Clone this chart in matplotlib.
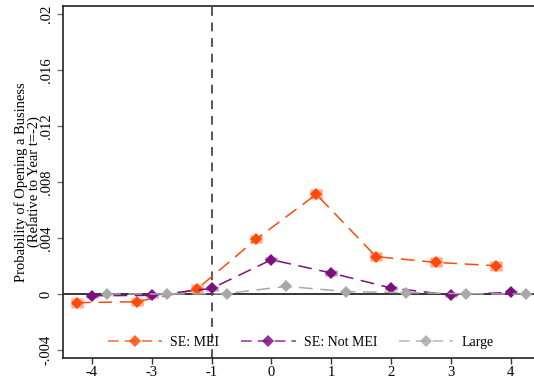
import matplotlib
matplotlib.use("Agg")
import matplotlib.pyplot as plt
import numpy as np
from matplotlib.lines import Line2D

# Event-time categories (t=-2 is the omitted reference year)
tick_labels = ["-4", "-3", "-1", "0", "1", "2", "3", "4"]
positions = np.arange(1, len(tick_labels) + 1)

# Estimated coefficients
mei = [-0.00062, -0.00055, 0.00033, 0.00393, 0.00712, 0.00267, 0.00226, 0.00202]
not_mei = [-0.00012, -0.00010, 0.00040, 0.00245, 0.00150, 0.00043, -0.00007, 0.00012]
large = [0.00000, 0.00000, 0.00003, 0.00055, 0.00017, 0.00010, 0.00002, 0.00000]

# Confidence interval half-widths
mei_ci = [0.00035, 0.00030, 0.00035, 0.00030, 0.00035, 0.00030, 0.00035, 0.00035]
not_mei_ci = [0.00018, 0.00015, 0.00015, 0.00018, 0.00018, 0.00015, 0.00015, 0.00015]
large_ci = [0.00005, 0.00005, 0.00005, 0.00005, 0.00005, 0.00005, 0.00005, 0.00005]

series_names = ["SE: MEI", "SE: Not MEI", "Large"]
colors = ["#ff4a0a", "#7e0f7e", "#a8a8a8"]
offsets = [-0.25, 0.0, 0.25]

yticks = [-0.004, 0, 0.004, 0.008, 0.012, 0.016, 0.02]
ytick_labels = ["-.004", "0", ".004", ".008", ".012", ".016", ".02"]

plt.rcParams["font.family"] = ["Liberation Serif", "DejaVu Serif"]
plt.rcParams["font.size"] = 10

fig = plt.figure(figsize=(5.34, 3.79), dpi=100)
ax = fig.add_axes([0.1174, 0.0554, 0.8826, 0.9288])

ax.axhline(0, color="black", lw=1.1, zorder=1)
ax.axvline(3, color="#555555", lw=1.4, ls=(0, (4.5, 3.5)), zorder=1)

handles = []
for vals, ci, col, off, name in zip([mei, not_mei, large],
                                    [mei_ci, not_mei_ci, large_ci],
                                    colors, offsets, series_names):
    x = positions + off
    v = np.array(vals)
    c = np.array(ci)
    ax.vlines(x, v - c, v + c, color=col, lw=9, alpha=0.45, zorder=2)
    ax.plot(x, v, color=col, lw=1.1, ls=(0, (9, 5)), marker="D",
            markersize=6.5, markeredgewidth=0, zorder=3)
    handles.append(Line2D([], [], color=col, lw=1.1, ls=(0, (7, 4)),
                          marker="D", markersize=6.5, markeredgewidth=0,
                          alpha=0.85))

ax.set_xlim(0.51, 8.39)
ax.set_ylim(-0.00457, 0.02057)
ax.set_xticks(positions)
ax.set_xticklabels(tick_labels, fontsize=10.5)
ax.set_yticks(yticks)
ax.set_yticklabels(ytick_labels, rotation=90, va="center", fontsize=10.5)
ax.tick_params(axis="y", length=4, width=1, color="#777777", pad=3)
ax.tick_params(axis="x", length=4, width=1, color="#333333", pad=2)

for s in ["left", "bottom", "top"]:
    ax.spines[s].set_linewidth(1.2)
    ax.spines[s].set_color("#222222")
ax.spines["right"].set_visible(False)

ax.set_ylabel("Probability of Opening a Business\n(Relative to Year t=-2)",
              linespacing=1.0, labelpad=-1, fontsize=10.5)

leg = ax.legend(handles, series_names, loc="lower center",
                bbox_to_anchor=(0.505, -0.01), ncol=3, frameon=False,
                handlelength=3.9, columnspacing=1.6, handletextpad=0.58)

fig.savefig("out.png", dpi=100)
